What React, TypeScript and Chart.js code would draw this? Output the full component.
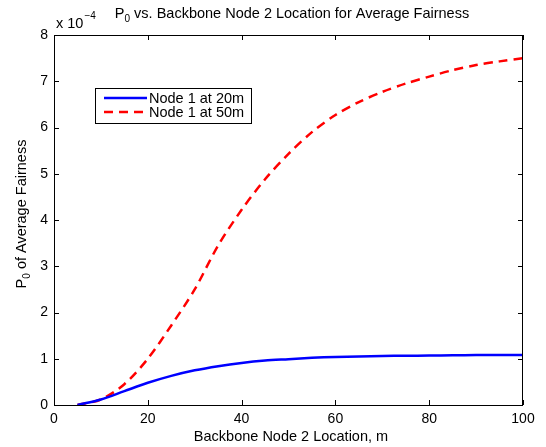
import React, { useEffect, useRef } from "react";
import { Chart, registerables } from "chart.js";

Chart.register(...registerables);

const xPositions = [5, 10, 15, 20, 25, 30, 35, 40, 45, 50, 55, 60, 65, 70, 75, 80, 85, 90, 95, 100];
const node1At20m = [0, 0.12, 0.3, 0.48, 0.63, 0.75, 0.84, 0.91, 0.96, 0.99, 1.02, 1.04, 1.05, 1.06, 1.065, 1.07, 1.075, 1.08, 1.08, 1.08];
const node1At50m = [0, 0.12, 0.45, 1.0, 1.72, 2.5, 3.45, 4.22, 4.88, 5.43, 5.9, 6.27, 6.55, 6.77, 6.95, 7.1, 7.24, 7.35, 7.43, 7.5];
const seriesLabels = ["Node 1 at 20m", "Node 1 at 50m"];
const xTicks = [0, 20, 40, 60, 80, 100];
const yTicks = [0, 1, 2, 3, 4, 5, 6, 7, 8];
const titleMain = "P";
const titleSub = "0";
const titleRest = " vs. Backbone Node 2 Location for Average Fairness";
const xTitle = "Backbone Node 2 Location, m";
const yTitleRest = " of Average Fairness";
const exponentBase = "x 10";
const exponent = "\u22124";

const FONT = "'Liberation Sans', Arial, Helvetica, sans-serif";

const decorPlugin = {
  id: "decor",
  afterDraw(chart: any) {
    const ctx = chart.ctx as CanvasRenderingContext2D;
    const { left, right, top, bottom } = chart.chartArea;
    const xs = chart.scales.x;
    const ys = chart.scales.y;
    ctx.save();
    // box
    ctx.strokeStyle = "#000";
    ctx.lineWidth = 1;
    ctx.strokeRect(Math.round(left) + 0.5, Math.round(top) + 0.5, Math.round(right - left) - 1, Math.round(bottom - top));
    // inward ticks
    const tl = 5;
    ctx.beginPath();
    xTicks.forEach((v) => {
      const px = Math.round(xs.getPixelForValue(v)) + 0.5;
      ctx.moveTo(px, bottom);
      ctx.lineTo(px, bottom - tl);
      ctx.moveTo(px, top);
      ctx.lineTo(px, top + tl);
    });
    yTicks.forEach((v) => {
      const py = Math.round(ys.getPixelForValue(v)) + 0.5;
      ctx.moveTo(left, py);
      ctx.lineTo(left + tl, py);
      ctx.moveTo(right, py);
      ctx.lineTo(right - tl, py);
    });
    ctx.stroke();

    ctx.fillStyle = "#000";
    ctx.textBaseline = "alphabetic";
    // title
    const big = `14.5px ${FONT}`;
    const small = `10px ${FONT}`;
    ctx.font = big;
    const wP = ctx.measureText(titleMain).width;
    const wRest = ctx.measureText(titleRest).width;
    ctx.font = small;
    const wSub = ctx.measureText(titleSub).width;
    const total = wP + wSub + wRest;
    let tx = 292 - total / 2;
    const ty = 18;
    ctx.textAlign = "left";
    ctx.font = big;
    ctx.fillText(titleMain, tx, ty);
    tx += wP;
    ctx.font = small;
    ctx.fillText(titleSub, tx, ty + 4);
    tx += wSub;
    ctx.font = big;
    ctx.fillText(titleRest, tx, ty);

    // exponent label
    ctx.font = big;
    ctx.fillText(exponentBase, left + 2, top - 7);
    const wb = ctx.measureText(exponentBase).width;
    ctx.font = small;
    ctx.fillText(exponent, left + 2 + wb + 1, top - 16);

    // x title
    ctx.font = big;
    ctx.textAlign = "center";
    ctx.fillText(xTitle, 291, 441);

    // y title (rotated)
    ctx.save();
    ctx.translate(26, 214);
    ctx.rotate(-Math.PI / 2);
    ctx.textAlign = "left";
    ctx.font = big;
    const yw1 = ctx.measureText(titleMain).width;
    const yw3 = ctx.measureText(yTitleRest).width;
    ctx.font = small;
    const yw2 = ctx.measureText(titleSub).width;
    let yx = -(yw1 + yw2 + yw3) / 2;
    ctx.font = big;
    ctx.fillText(titleMain, yx, 0);
    yx += yw1;
    ctx.font = small;
    ctx.fillText(titleSub, yx, 4);
    yx += yw2;
    ctx.font = big;
    ctx.fillText(yTitleRest, yx, 0);
    ctx.restore();

    // legend box
    const bx = 95, by = 88, bw = 156, bh = 35;
    ctx.fillStyle = "#fff";
    ctx.fillRect(bx, by, bw, bh);
    ctx.strokeStyle = "#000";
    ctx.lineWidth = 1;
    ctx.strokeRect(bx + 0.5, by + 0.5, bw, bh);
    chart.data.datasets.forEach((ds: any, i: number) => {
      const ly = by + 10 + i * 14;
      ctx.beginPath();
      ctx.strokeStyle = ds.borderColor;
      ctx.lineWidth = ds.borderWidth;
      ctx.setLineDash(ds.borderDash || []);
      ctx.moveTo(bx + 9, ly);
      ctx.lineTo(bx + 52, ly);
      ctx.stroke();
      ctx.setLineDash([]);
      ctx.fillStyle = "#000";
      ctx.font = big;
      ctx.textAlign = "left";
      ctx.textBaseline = "middle";
      ctx.fillText(ds.label, bx + 54, ly + 0.5);
    });
    ctx.restore();
  },
};

export default function App() {
  const ref = useRef<HTMLCanvasElement | null>(null);
  useEffect(() => {
    document.body.style.margin = "0";
    const chart = new Chart(ref.current!, {
      type: "line",
      data: {
        datasets: [
          {
            label: seriesLabels[0],
            data: xPositions.map((x, i) => ({ x, y: node1At20m[i] })),
            borderColor: "#0000ff",
            borderWidth: 2.5,
            pointRadius: 0,
            tension: 0.3,
            fill: false,
          },
          {
            label: seriesLabels[1],
            data: xPositions.map((x, i) => ({ x, y: node1At50m[i] })),
            borderColor: "#ff0000",
            borderWidth: 2.5,
            borderDash: [9, 6],
            pointRadius: 0,
            tension: 0.3,
            fill: false,
          },
        ],
      },
      options: {
        animation: false,
        responsive: true,
        maintainAspectRatio: false,
        layout: { padding: { top: 35, right: 23, left: 0, bottom: 0 } },
        plugins: { legend: { display: false }, tooltip: { enabled: false }, title: { display: false } },
        scales: {
          x: {
            type: "linear",
            min: 0,
            max: 100,
            afterFit: (s: any) => { s.height = 42; },
            afterBuildTicks: (s: any) => { s.ticks = xTicks.map((v) => ({ value: v })); },
            grid: { display: false, drawTicks: false },
            border: { display: false },
            ticks: { color: "#000", padding: 6, maxRotation: 0, font: { family: FONT, size: 14 } },
          },
          y: {
            type: "linear",
            min: 0,
            max: 8,
            afterFit: (s: any) => { s.width = 54; },
            afterBuildTicks: (s: any) => { s.ticks = yTicks.map((v) => ({ value: v })); },
            grid: { display: false, drawTicks: false },
            border: { display: false },
            ticks: { color: "#000", padding: 6, font: { family: FONT, size: 14 } },
          },
        },
      },
      plugins: [decorPlugin],
    });
    return () => chart.destroy();
  }, []);
  return (
    <div style={{ position: "fixed", left: 0, top: 0, width: 546, height: 447, background: "#fff" }}>
      <canvas ref={ref} />
    </div>
  );
}
